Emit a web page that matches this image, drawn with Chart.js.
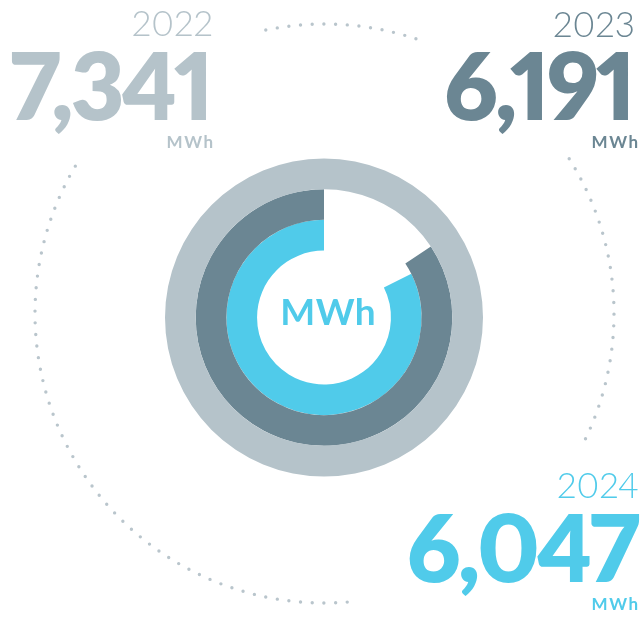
<!DOCTYPE html>
<html>
<head>
<meta charset="utf-8">
<script src="https://cdn.jsdelivr.net/npm/chart.js@4"></script>
<style>
  html, body { margin: 0; padding: 0; background: #fff; }
  #wrap { position: relative; width: 642px; height: 617px; overflow: hidden; font-family: Lato, "Noto Sans", sans-serif; }
  #chart { position: absolute; left: 0; top: 0; }
  .lbl { position: absolute; white-space: nowrap; line-height: 1; font-feature-settings: "pnum" 1, "lnum" 1; }
  .lbl .base { display: inline-block; width: 0; height: 0; }
</style>
</head>
<body>
<div id="wrap">
  <canvas id="chart" width="642" height="617"></canvas>
</div>
<script>
const years = ['2022', '2023', '2024'];
const values = [7341, 6191, 6047];
const unit = 'MWh';
const colors = ['#b5c3ca', '#6b8693', '#50cbea'];

// dotted ring around the chart, angles in degrees clockwise from 12 o'clock
const dotArcs = [[-11.7, 18.6], [57.7, 117.8], [175.5, 302.5]];

const dottedRing = {
  id: 'dottedRing',
  beforeDatasetsDraw(chart) {
    const arc = chart.getDatasetMeta(0).data[0];
    const cx = arc.x + 0.5, cy = arc.y - 4, r = 289.5;
    const ctx = chart.ctx;
    ctx.save();
    ctx.strokeStyle = '#b9c5cc';
    ctx.lineWidth = 3.4;
    ctx.lineCap = 'round';
    ctx.setLineDash([0, 11.7]);
    dotArcs.forEach(([a, b]) => {
      ctx.beginPath();
      ctx.arc(cx, cy, r, (a - 90) * Math.PI / 180, (b - 90) * Math.PI / 180);
      ctx.stroke();
    });
    ctx.restore();
  }
};

// each ring: empty part first (from 12 o'clock), then the value
const datasets = values.map((v, i) => ({
  label: years[i],
  data: [values[0] - v, v],
  backgroundColor: ['rgba(0,0,0,0)', colors[i]],
  borderWidth: 0
}));

new Chart(document.getElementById('chart'), {
  type: 'doughnut',
  data: { labels: ['', unit], datasets: datasets },
  options: {
    responsive: false,
    animation: false,
    events: [],
    radius: 159,
    cutout: '42.1%',
    layout: { padding: { left: 6, top: 18 } },
    plugins: { legend: { display: false }, tooltip: { enabled: false } }
  },
  plugins: [dottedRing]
});

// text labels, placed by their baseline
const wrap = document.getElementById('wrap');
function label(text, opts) {
  const d = document.createElement('div');
  d.className = 'lbl';
  d.style.fontSize = opts.size + 'px';
  d.style.fontWeight = opts.weight;
  d.style.color = opts.color;
  d.style.letterSpacing = (opts.ls || 0) + 'px';
  d.innerHTML = '<span>' + text + '</span><span class="base"></span>';
  wrap.appendChild(d);
  const baseOff = d.querySelector('.base').offsetTop;
  const w = d.getBoundingClientRect().width - (opts.ls || 0);
  let left;
  if (opts.right !== undefined) left = opts.right - w;
  else left = opts.cx - w / 2;
  d.style.left = left + 'px';
  d.style.top = (opts.baseline - baseOff) + 'px';
}

const blocks = [
  { right: 214, yearBase: 36, numBase: 120, unitBase: 148, unitRight: 213 },
  { right: 636, yearBase: 37, numBase: 120, unitBase: 148, unitRight: 638 },
  { right: 640, yearBase: 498, numBase: 582, unitBase: 610, unitRight: 638 }
];

blocks.forEach((b, i) => {
  label(years[i], { right: b.right - 1, baseline: b.yearBase, size: 35, weight: 300, color: colors[i], ls: 0 });
  label(values[i].toLocaleString('en-US'), { right: b.right, baseline: b.numBase, size: 93, weight: 800, color: colors[i], ls: -3 });
  label(unit, { right: b.unitRight, baseline: b.unitBase, size: 17, weight: 700, color: colors[i], ls: 1.5 });
});

label(unit, { cx: 328, baseline: 325, size: 37, weight: 700, color: colors[2], ls: 0.5 });
</script>
</body>
</html>
